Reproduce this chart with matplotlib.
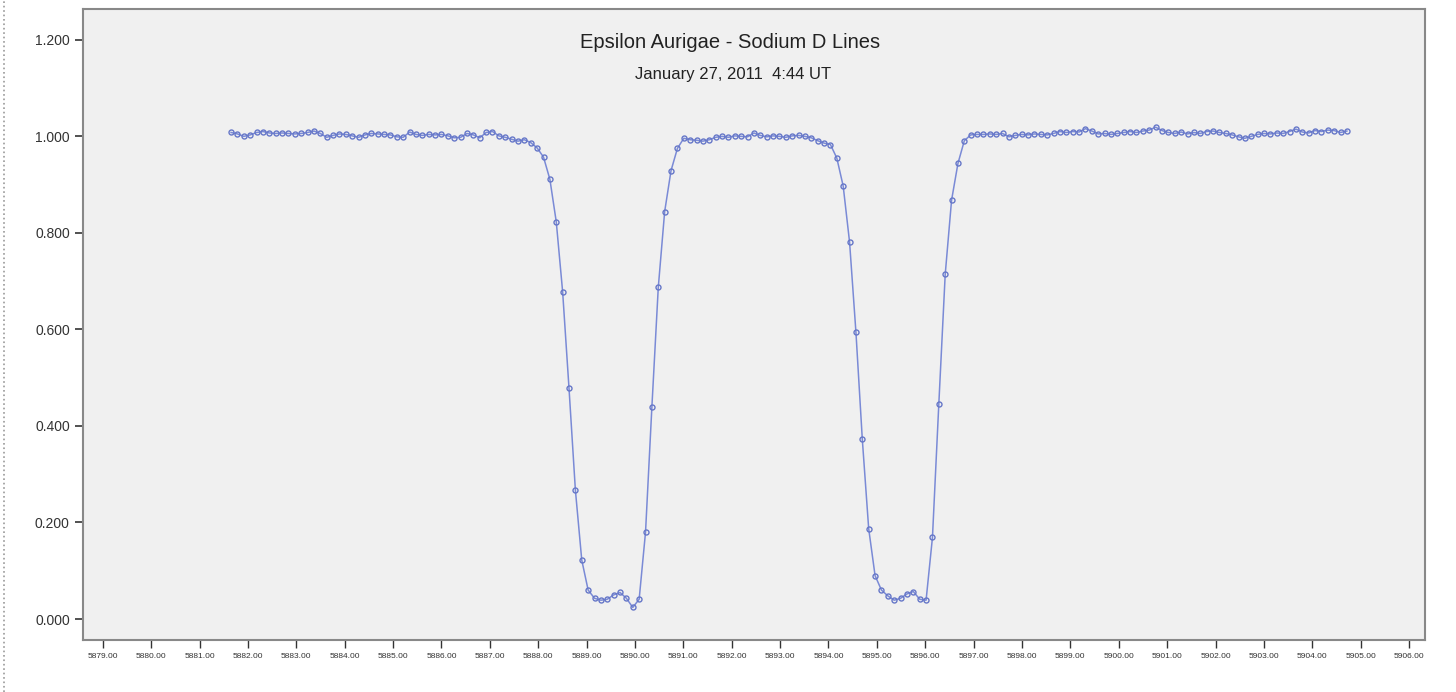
# -*- coding: utf-8 -*-
"""
Epsilon Aurigae - Sodium D lines, normalised spectrum
"""

import numpy as np
import matplotlib
matplotlib.use("Agg")
import matplotlib.pyplot as plt
from matplotlib.lines import Line2D
from matplotlib.ticker import FormatStrFormatter

plt.rcParams["font.family"] = ["Liberation Sans", "DejaVu Sans"]

# wavelength grid of the spectrum (Angstrom)
wl_start = 5881.651
wl_step = 0.1318

# normalised flux
flux = [
    # continuum blue side
    1.008, 1.005, 1.000, 1.003, 1.008, 1.010, 1.007, 1.006, 1.007, 1.006,
    1.005, 1.006, 1.008, 1.011, 1.006, 0.998, 1.002, 1.005, 1.004, 1.001,
    0.998, 1.003, 1.006, 1.005, 1.004, 1.003, 0.999, 0.998, 1.009, 1.004,
    1.002, 1.004, 1.003, 1.004, 1.001, 0.997, 0.998, 1.006, 1.003, 0.997,
    1.008, 1.010, 1.001, 0.998, 0.994, 0.990, 0.993, 0.987, 0.976, 0.957,
    # D2 line
    0.911, 0.823, 0.678, 0.478, 0.267, 0.122, 0.060, 0.043, 0.039, 0.041,
    0.050, 0.055, 0.043, 0.024, 0.041, 0.180, 0.440, 0.687, 0.844, 0.929,
    0.975, 0.996,
    # between the lines
    0.993, 0.992, 0.990, 0.993, 0.998, 1.000, 0.998, 1.001, 1.000, 0.999,
    1.007, 1.002, 0.999, 1.001, 1.000, 0.998, 1.001, 1.002, 1.000, 0.997,
    0.991, 0.986, 0.983,
    # D1 line
    0.955, 0.897, 0.781, 0.594, 0.372, 0.187, 0.090, 0.060, 0.048, 0.039,
    0.043, 0.052, 0.057, 0.041, 0.039, 0.169, 0.446, 0.714, 0.868, 0.944,
    0.991,
    # continuum red side
    1.003, 1.004, 1.004, 1.005, 1.004, 1.006, 0.999, 1.002, 1.004, 1.003,
    1.005, 1.004, 1.003, 1.006, 1.010, 1.008, 1.010, 1.009, 1.016, 1.011,
    1.005, 1.006, 1.004, 1.006, 1.008, 1.010, 1.008, 1.011, 1.013, 1.019,
    1.012, 1.008, 1.006, 1.009, 1.005, 1.008, 1.006, 1.010, 1.011, 1.008,
    1.006, 1.003, 0.999, 0.996, 1.000, 1.004, 1.006, 1.005, 1.007, 1.006,
    1.010, 1.015, 1.009, 1.007, 1.012, 1.010, 1.013, 1.012, 1.008, 1.011,
]
wavelength = wl_start + wl_step * np.arange(len(flux))

x_ticks = np.arange(5879, 5907, 1)
y_ticks = [0.0, 0.2, 0.4, 0.6, 0.8, 1.0, 1.2]

title = "Epsilon Aurigae - Sodium D Lines"
subtitle = "January 27, 2011  4:44 UT"

# 画布
fig = plt.figure(figsize=(14.56, 6.92), dpi=100)
fig.patch.set_facecolor("white")
ax = fig.add_axes([0.057, 0.0751, 0.9217, 0.912])
ax.set_facecolor("#f0f0f0")

# 光谱曲线
ax.plot(wavelength, flux, "-", color="#7a8ad6", linewidth=1.1,
        marker="o", markersize=3.6, markerfacecolor="none",
        markeredgecolor="#6677c8", markeredgewidth=1.0)

# 坐标轴
ax.set_xlim(5878.59, 5906.33)
ax.set_ylim(-0.0435, 1.264)
ax.set_xticks(x_ticks)
ax.set_yticks(y_ticks)
ax.xaxis.set_major_formatter(FormatStrFormatter("%.2f"))
ax.yaxis.set_major_formatter(FormatStrFormatter("%.3f"))
ax.tick_params(axis="x", direction="out", length=6, width=1.0,
               labelsize=6, colors="#333333")
ax.tick_params(axis="y", direction="out", length=6, width=1.2,
               labelsize=10, colors="#333333")
for side in ["left", "right", "top", "bottom"]:
    ax.spines[side].set_color("#888888")
    ax.spines[side].set_linewidth(1.5)

# 标题
fig.text(730 / 1456, 1 - 43 / 692, title, ha="center", va="center",
         fontsize=14.5, color="#222222")
fig.text(733 / 1456, 1 - 74 / 692, subtitle, ha="center", va="center",
         fontsize=12, color="#222222")

# 左侧虚线边框
fig.add_artist(Line2D([4 / 1456, 4 / 1456], [0.0, 1.0], transform=fig.transFigure,
                      color="#999999", linestyle=":", linewidth=1.2))

fig.savefig("out.png", dpi=100, facecolor="white")
